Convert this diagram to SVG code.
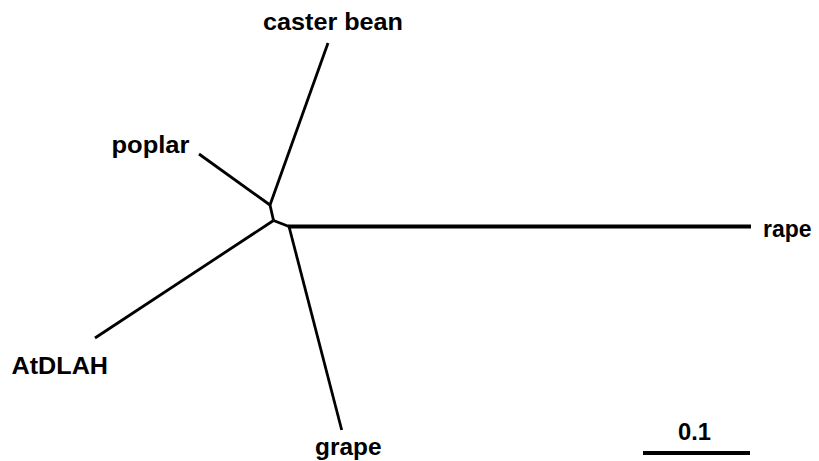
<svg xmlns="http://www.w3.org/2000/svg" width="819" height="461" viewBox="0 0 819 461">
<style>
.b{fill:none;stroke:#000;stroke-width:2.8;stroke-linecap:butt;stroke-linejoin:round}
.t{font-family:"Liberation Sans",Arial,sans-serif;font-weight:bold;font-size:24px;fill:#000}
</style>
<rect width="819" height="461" fill="#fff"/>
<g id="connectors">
<path class="b" d="M328,43 L270,205"/>
<path class="b" d="M199,154 L270,205"/>
<path class="b" d="M270,205 L273.5,220.5"/>
<path class="b" d="M95,338 L273.5,220.5"/>
<path class="b" d="M273.5,220.5 L289,226.5"/>
<path class="b" d="M289,226.5 L341.7,430"/>
<path class="b" style="stroke-width:4" d="M288,226.5 L751,226.5"/>
</g>
<g id="caster_bean"><text class="t" x="263" y="30" textLength="140" lengthAdjust="spacingAndGlyphs">caster bean</text></g>
<g id="poplar"><text class="t" x="111.5" y="153" textLength="78" lengthAdjust="spacingAndGlyphs">poplar</text></g>
<g id="rape"><text class="t" x="763" y="237" textLength="48.5" lengthAdjust="spacingAndGlyphs">rape</text></g>
<g id="AtDLAH"><text class="t" x="11.5" y="374" textLength="96.5" lengthAdjust="spacingAndGlyphs">AtDLAH</text></g>
<g id="grape"><text class="t" x="315" y="455" textLength="66.5" lengthAdjust="spacingAndGlyphs">grape</text></g>
<g id="scale">
<text class="t" x="678" y="440" textLength="33" lengthAdjust="spacingAndGlyphs">0.1</text>
<path class="b" style="stroke-width:4" d="M643,453 L750,453"/>
</g>
</svg>
